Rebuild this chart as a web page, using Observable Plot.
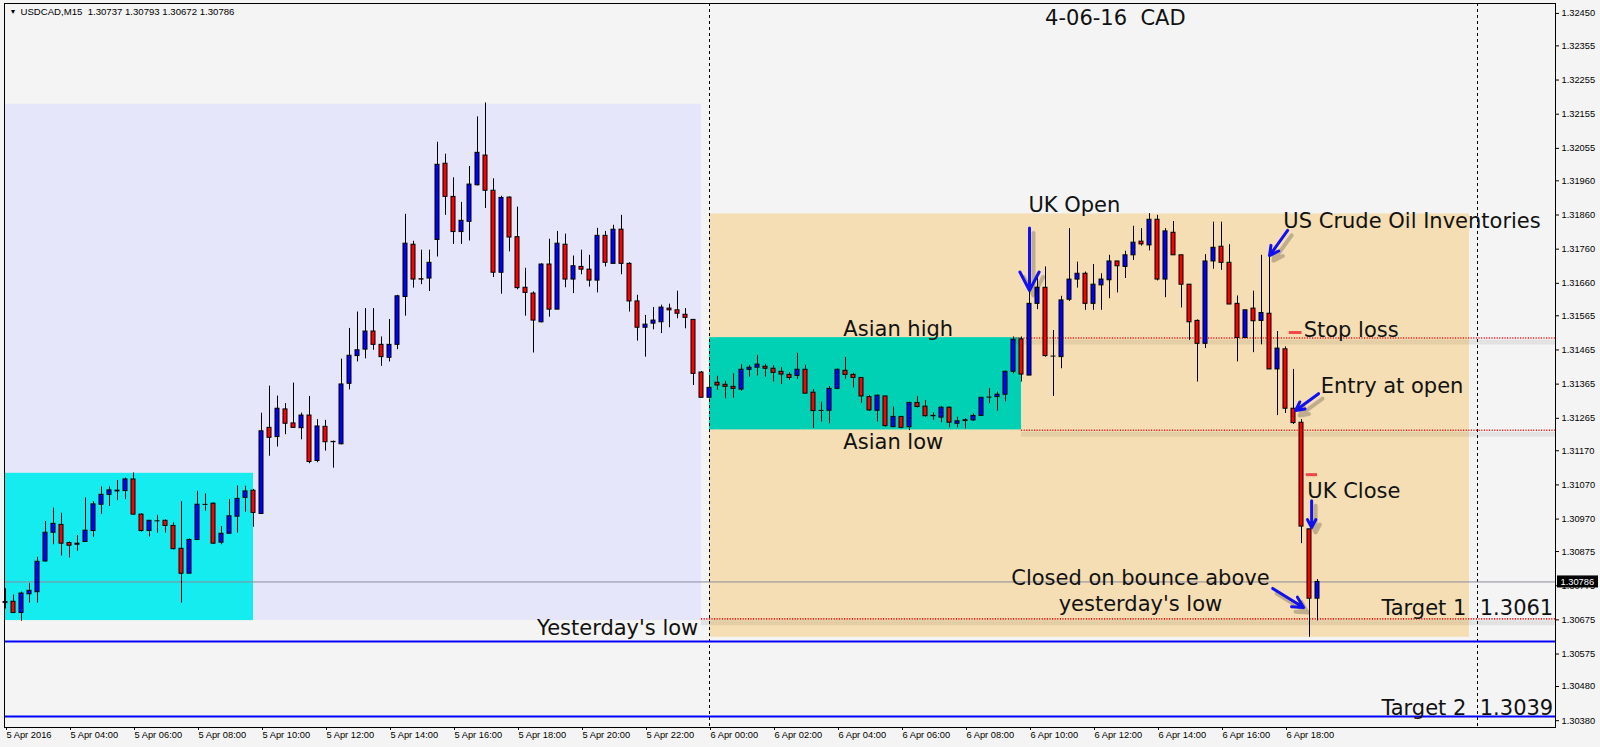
<!DOCTYPE html>
<html><head><meta charset="utf-8">
<script src="https://cdn.jsdelivr.net/npm/d3@7"></script>
<script src="https://cdn.jsdelivr.net/npm/@observablehq/plot@0.6"></script>
<style>
html,body{margin:0;padding:0;background:#F4F4F4;}
#chart svg{display:block;}
</style></head><body><div id="chart"></div>
<script>
// ---------- data ----------
const symbol = "USDCAD";
const timeframe = "M15";
const firstBar = "2016-04-05T02:00:00Z";
const barMinutes = 15;

const opens = [
1.30725,1.30728,1.30695,1.30750,1.30756,1.30846,1.30930,1.30953,1.30900,1.30895,
1.30903,1.30935,1.31012,1.31041,1.31051,1.31052,1.31086,1.30983,1.30935,1.30965,
1.30965,1.30950,1.30883,1.30810,1.30909,1.31013,1.31015,1.30901,1.30927,1.30977,
1.31032,1.31053,1.30985,1.31237,1.31210,1.31291,1.31250,1.31236,1.31273,1.31140,
1.31240,1.31195,1.31189,1.31366,1.31447,1.31466,1.31519,1.31480,1.31442,1.31480,
1.31620,1.31773,1.31672,1.31674,1.31787,1.32010,1.31913,1.31810,1.31840,1.31947,
1.32034,1.31931,1.31691,1.31911,1.31795,1.31647,1.31630,1.31546,1.31715,1.31583,
1.31773,1.31671,1.31708,1.31700,1.31668,1.31799,1.31717,1.31817,1.31717,1.31607,
1.31530,1.31542,1.31546,1.31586,1.31581,1.31568,1.31553,1.31399,1.31325,1.31369,
1.31363,1.31357,1.31349,1.31407,1.31413,1.31416,1.31410,1.31401,1.31392,1.31389,
1.31407,1.31340,1.31288,1.31287,1.31351,1.31404,1.31392,1.31383,1.31327,1.31287,
1.31329,1.31239,1.31269,1.31239,1.31310,1.31299,1.31272,1.31267,1.31296,1.31249,
1.31257,1.31259,1.31272,1.31327,1.31327,1.31334,1.31401,1.31496,1.31390,1.31600,
1.31647,1.31447,1.31444,1.31612,1.31671,1.31688,1.31600,1.31654,1.31669,1.31724,
1.31708,1.31742,1.31782,1.31771,1.31846,1.31671,1.31808,1.31742,1.31656,1.31550,
1.31483,1.31724,1.31767,1.31720,1.31600,1.31500,1.31586,1.31550,1.31571,1.31408,
1.31467,1.31293,1.31252,1.30940,1.30737];
const highs = [
1.30766,1.30748,1.30756,1.30782,1.30858,1.30963,1.31002,1.30987,1.30903,1.30922,
1.31032,1.31021,1.31064,1.31064,1.31083,1.31090,1.31105,1.30986,1.30966,1.30981,
1.30968,1.30959,1.31021,1.30912,1.31051,1.31044,1.31017,1.30948,1.31027,1.31067,
1.31066,1.31057,1.31280,1.31359,1.31330,1.31308,1.31368,1.31280,1.31329,1.31261,
1.31259,1.31198,1.31438,1.31528,1.31576,1.31586,1.31586,1.31503,1.31554,1.31625,
1.31862,1.31783,1.31757,1.31757,1.32073,1.32038,1.31969,1.31897,1.32002,1.32147,
1.32188,1.31966,1.31915,1.31913,1.31883,1.31704,1.31635,1.31717,1.31789,1.31812,
1.31804,1.31740,1.31757,1.31742,1.31821,1.31812,1.31830,1.31859,1.31720,1.31625,
1.31566,1.31589,1.31596,1.31599,1.31637,1.31586,1.31553,1.31402,1.31381,1.31388,
1.31373,1.31395,1.31422,1.31420,1.31449,1.31423,1.31419,1.31413,1.31398,1.31455,
1.31420,1.31349,1.31312,1.31358,1.31409,1.31443,1.31397,1.31383,1.31332,1.31333,
1.31329,1.31298,1.31269,1.31312,1.31329,1.31317,1.31281,1.31299,1.31298,1.31268,
1.31264,1.31278,1.31325,1.31352,1.31342,1.31403,1.31503,1.31503,1.31635,1.31688,
1.31708,1.31522,1.31622,1.31820,1.31722,1.31693,1.31715,1.31688,1.31742,1.31724,
1.31754,1.31827,1.31820,1.31864,1.31859,1.31820,1.31841,1.31742,1.31656,1.31553,
1.31744,1.31839,1.31839,1.31773,1.31623,1.31581,1.31637,1.31742,1.31742,1.31519,
1.31474,1.31408,1.31261,1.30940,1.30793];
const lows = [
1.30707,1.30695,1.30671,1.30724,1.30724,1.30844,1.30895,1.30862,1.30856,1.30876,
1.30903,1.30917,1.30984,1.31007,1.31024,1.31027,1.30981,1.30932,1.30917,1.30929,
1.30929,1.30880,1.30724,1.30810,1.30909,1.30993,1.30896,1.30895,1.30927,1.30929,
1.30990,1.30946,1.30985,1.31154,1.31181,1.31217,1.31237,1.31202,1.31132,1.31135,
1.31169,1.31119,1.31187,1.31348,1.31430,1.31439,1.31464,1.31417,1.31430,1.31466,
1.31564,1.31646,1.31656,1.31636,1.31737,1.31859,1.31774,1.31774,1.31784,1.31945,
1.31879,1.31677,1.31628,1.31752,1.31641,1.31564,1.31456,1.31544,1.31561,1.31583,
1.31647,1.31630,1.31685,1.31649,1.31632,1.31708,1.31717,1.31685,1.31576,1.31491,
1.31444,1.31524,1.31513,1.31530,1.31556,1.31527,1.31361,1.31325,1.31322,1.31347,
1.31322,1.31324,1.31344,1.31385,1.31389,1.31385,1.31371,1.31364,1.31376,1.31379,
1.31337,1.31235,1.31254,1.31249,1.31349,1.31379,1.31354,1.31309,1.31285,1.31254,
1.31239,1.31239,1.31234,1.31229,1.31295,1.31268,1.31259,1.31252,1.31237,1.31237,
1.31234,1.31256,1.31270,1.31308,1.31286,1.31313,1.31395,1.31371,1.31390,1.31583,
1.31444,1.31329,1.31410,1.31607,1.31646,1.31581,1.31581,1.31581,1.31615,1.31632,
1.31674,1.31727,1.31769,1.31755,1.31667,1.31618,1.31742,1.31588,1.31493,1.31371,
1.31469,1.31701,1.31698,1.31598,1.31430,1.31500,1.31457,1.31480,1.31408,1.31273,
1.31279,1.31247,1.30898,1.30624,1.30672];
const closes = [
1.30727,1.30695,1.30752,1.30760,1.30845,1.30930,1.30956,1.30898,1.30892,1.30898,
1.30936,1.31013,1.31041,1.31054,1.31053,1.31086,1.30983,1.30935,1.30965,1.30965,
1.30950,1.30882,1.30810,1.30909,1.31012,1.31013,1.30898,1.30927,1.30978,1.31029,
1.31051,1.30988,1.31227,1.31208,1.31293,1.31249,1.31237,1.31273,1.31137,1.31241,
1.31195,1.31196,1.31364,1.31448,1.31464,1.31519,1.31480,1.31444,1.31480,1.31622,
1.31776,1.31671,1.31671,1.31720,1.32007,1.31913,1.31810,1.31843,1.31949,1.32042,
1.31931,1.31691,1.31910,1.31794,1.31646,1.31632,1.31551,1.31715,1.31583,1.31776,
1.31671,1.31710,1.31700,1.31668,1.31799,1.31720,1.31817,1.31717,1.31607,1.31530,
1.31539,1.31551,1.31589,1.31581,1.31571,1.31559,1.31395,1.31325,1.31354,1.31361,
1.31357,1.31351,1.31407,1.31413,1.31422,1.31410,1.31398,1.31393,1.31383,1.31407,
1.31337,1.31286,1.31288,1.31351,1.31407,1.31392,1.31383,1.31329,1.31288,1.31331,
1.31242,1.31269,1.31237,1.31310,1.31298,1.31271,1.31271,1.31296,1.31252,1.31256,
1.31259,1.31272,1.31325,1.31327,1.31334,1.31401,1.31495,1.31393,1.31600,1.31647,
1.31447,1.31447,1.31610,1.31671,1.31688,1.31600,1.31656,1.31671,1.31724,1.31710,
1.31742,1.31779,1.31774,1.31846,1.31671,1.31812,1.31742,1.31656,1.31546,1.31483,
1.31724,1.31764,1.31720,1.31598,1.31500,1.31581,1.31549,1.31573,1.31408,1.31469,
1.31293,1.31251,1.30948,1.30737,1.30786];

const xTickLabels = ["5 Apr 2016","5 Apr 04:00","5 Apr 06:00","5 Apr 08:00","5 Apr 10:00","5 Apr 12:00",
  "5 Apr 14:00","5 Apr 16:00","5 Apr 18:00","5 Apr 20:00","5 Apr 22:00","6 Apr 00:00","6 Apr 02:00",
  "6 Apr 04:00","6 Apr 06:00","6 Apr 08:00","6 Apr 10:00","6 Apr 12:00","6 Apr 14:00","6 Apr 16:00","6 Apr 18:00"];
const xTickHours = 2;
const yTickLabels = ["1.32450","1.32355","1.32255","1.32155","1.32055","1.31960","1.31860","1.31760",
  "1.31660","1.31565","1.31465","1.31365","1.31265","1.31170","1.31070","1.30970","1.30875","1.30775",
  "1.30675","1.30575","1.30480","1.30380"];

const xDomain = ["2016-04-05T01:58:07.5Z", "2016-04-07T02:26:15Z"];
const yDomain = [1.30360, 1.32479];

const currentPrice = 1.30786;
const daySeparators = ["2016-04-06T00:00:00Z", "2016-04-07T00:00:00Z"];

// session boxes
const zoneNames = ["prevDay", "prevAsia", "day", "asia"];
const zoneFrom  = ["2016-04-05T00:00:00Z","2016-04-05T00:00:00Z","2016-04-06T00:00:00Z","2016-04-06T00:00:00Z"];
const zoneTo    = ["2016-04-05T23:45:00Z","2016-04-05T09:45:00Z","2016-04-06T23:45:00Z","2016-04-06T09:45:00Z"];
const zoneLow   = [1.30673, 1.30673, 1.30624, 1.31231];
const zoneHigh  = [1.32184, 1.31104, 1.31863, 1.31501];

// dotted levels (run to right edge)
const levelPrice = [1.31500, 1.31230, 1.30678];
const levelFrom  = ["2016-04-06T09:30:00Z", "2016-04-06T09:45:00Z", "2016-04-05T23:45:00Z"];
// target lines
const targetLines = [1.30612, 1.30392];

// annotations
const noteText = ["4-06-16\u00a0\u00a0CAD", "UK Open", "US Crude Oil Inventories", "Asian high", "Asian low",
  "Stop loss", "Entry at open", "UK Close", "Closed on bounce above", "yesterday's low", "Yesterday's low",
  "Target 1\u00a0\u00a01.3061", "Target 2\u00a0\u00a01.3039"];
const noteTime = ["2016-04-06T12:41Z","2016-04-06T09:58Z","2016-04-06T17:56Z","2016-04-06T04:11Z","2016-04-06T04:11Z",
  "2016-04-06T18:34Z","2016-04-06T19:06Z","2016-04-06T18:41Z","2016-04-06T13:28Z","2016-04-06T13:28Z","2016-04-05T23:39Z",
  "2016-04-07T02:22Z","2016-04-07T02:22Z"];
const notePrice = [1.32415, 1.31870, 1.31823, 1.31507, 1.31174, 1.31503, 1.31339, 1.31033, 1.30778, 1.30702, 1.30630,
  1.30690, 1.30398];
const noteAlign = ["middle","start","start","start","start","start","start","start","middle","middle","end","end","end"];

const arrowFromTime  = ["2016-04-06T10:00Z","2016-04-06T18:04Z","2016-04-06T19:02Z","2016-04-06T18:49Z","2016-04-06T17:36Z"];
const arrowFromPrice = [1.31822, 1.31815, 1.31337, 1.31024, 1.30767];
const arrowToTime    = ["2016-04-06T10:00Z","2016-04-06T17:30Z","2016-04-06T18:19Z","2016-04-06T18:49Z","2016-04-06T18:34Z"];
const arrowToPrice   = [1.31639, 1.31741, 1.31288, 1.30945, 1.30711];

const dashFrom  = ["2016-04-06T18:07Z", "2016-04-06T18:39Z"];
const dashTo    = ["2016-04-06T18:31Z", "2016-04-06T19:00Z"];
const dashPrice = [1.31516, 1.31100];

// ---------- build ----------
const T = s => new Date(s);
const t0 = T(firstBar);
const barMs = barMinutes * 60000;
const half = barMs / 2;
const bars = opens.map((o, i) => ({date: new Date(+t0 + i * barMs), open: o, high: highs[i], low: lows[i], close: closes[i]}));
const bulls = bars.filter(d => d.close > d.open);
const bears = bars.filter(d => d.close < d.open);
const dojis = bars.filter(d => d.close === d.open);
const xEnd = T(xDomain[1]);
const xStart = T(xDomain[0]);

const tickDates = xTickLabels.map((_, k) => new Date(+t0 + k * xTickHours * 3600000));
const tickLabelMap = new Map(tickDates.map((d, k) => [+d, xTickLabels[k]]));
const yTicks = yTickLabels.map(Number);
const yLabelMap = new Map(yTickLabels.map(s => [+s, s]));

const zoneColor = {prevDay: "#E6E6FA", prevAsia: "#14ECF0", day: "#F5DEB3", asia: "#00D1B4"};
const zones = zoneNames.map((n, i) => ({name: n, x1: T(zoneFrom[i]), x2: T(zoneTo[i]), y1: zoneLow[i], y2: zoneHigh[i]}));
const levels = levelPrice.map((p, i) => ({y: p, x1: T(levelFrom[i]), x2: xEnd}));
const notes = noteText.map((t, i) => ({text: t, x: T(noteTime[i]), y: notePrice[i], a: noteAlign[i]}));
const arrows = arrowFromTime.map((t, i) => ({x1: T(t), y1: arrowFromPrice[i], x2: T(arrowToTime[i]), y2: arrowToPrice[i]}));
const dashes = dashFrom.map((t, i) => ({x1: T(t), x2: T(dashTo[i]), y: dashPrice[i]}));
const last = bars[bars.length - 1];
const titleText = `${symbol},${timeframe}\u00a0\u00a0${last.open.toFixed(5)} ${last.high.toFixed(5)} ${last.low.toFixed(5)} ${last.close.toFixed(5)}`;

const bigFont = {fontFamily: "DejaVu Sans", fontSize: 21, fill: "#111"};

const marks = [
  // session boxes
  ...zoneNames.map(n => Plot.rect(zones.filter(z => z.name === n), {x1: "x1", x2: "x2", y1: "y1", y2: "y2", fill: zoneColor[n], clip: true})),
  // day separators
  Plot.ruleX(daySeparators.map(T), {stroke: "#000", strokeWidth: 1, strokeDasharray: "3,3"}),
  // current price line
  Plot.ruleY([currentPrice], {stroke: "#8A8C9C", strokeWidth: 1}),
  // target lines
  Plot.ruleY(targetLines, {stroke: "#0000FF", strokeWidth: 2}),
  // level shadows and dotted levels
  Plot.ruleY(levels, {y: "y", x1: "x1", x2: "x2", stroke: "#000", strokeOpacity: 0.07, strokeWidth: 5, dy: 4}),
  Plot.ruleY(levels, {y: "y", x1: "x1", x2: "x2", stroke: "#FF1A1A", strokeWidth: 1.6, strokeDasharray: "1.2,1.4"}),
  // candles
  Plot.ruleX(bars, {x: "date", y1: "low", y2: "high", stroke: "#000", strokeWidth: 1}),
  Plot.rect(bulls, {x1: d => new Date(+d.date - half), x2: d => new Date(+d.date + half), y1: "open", y2: "close",
    insetLeft: 2, insetRight: 2, fill: "#0000FF", stroke: "#000", strokeWidth: 1}),
  Plot.rect(bears, {x1: d => new Date(+d.date - half), x2: d => new Date(+d.date + half), y1: "open", y2: "close",
    insetLeft: 2, insetRight: 2, fill: "#FF0000", stroke: "#000", strokeWidth: 1}),
  Plot.ruleY(dojis, {y: "close", x1: d => new Date(+d.date - half), x2: d => new Date(+d.date + half),
    insetLeft: 1.5, insetRight: 1.5, stroke: "#000", strokeWidth: 1}),
  // red dashes
  Plot.ruleY(dashes, {y: "y", x1: "x1", x2: "x2", stroke: "#F04848", strokeWidth: 3}),
  // annotations
  ...["start", "middle", "end"].map(a => Plot.text(notes.filter(n => n.a === a),
    {x: "x", y: "y", text: "text", textAnchor: a, lineAnchor: "bottom", ...bigFont})),
  // arrow shadows + arrows
  Plot.arrow(arrows, {x1: "x1", y1: "y1", x2: "x2", y2: "y2", stroke: "#000", strokeOpacity: 0.22,
    strokeWidth: 4, headLength: 12, headAngle: 55, dx: 4, dy: 5}),
  Plot.arrow(arrows, {x1: "x1", y1: "y1", x2: "x2", y2: "y2", stroke: "#1010F0",
    strokeWidth: 3, headLength: 12, headAngle: 55}),
  // frame
  Plot.frame({stroke: "#000", strokeWidth: 1}),
  // axes
  Plot.axisX({ticks: tickDates, tickFormat: d => tickLabelMap.get(+d), textAnchor: "start", dx: 1,
    tickSize: 3, tickPadding: 1, label: null, fontSize: 9.3}),
  Plot.axisY({anchor: "right", ticks: yTicks, tickFormat: d => yLabelMap.get(d) ?? d.toFixed(5),
    tickSize: 3, tickPadding: 3, label: null, fontSize: 9.3}),
  // current price box
  Plot.rect([currentPrice], {x1: xEnd, x2: xEnd, y1: d => d, y2: d => d, insetLeft: 2, insetRight: -43,
    insetTop: -6, insetBottom: -6, fill: "#000"}),
  Plot.text([currentPrice], {x: xEnd, y: d => d, text: d => d.toFixed(5), textAnchor: "start", dx: 5,
    fill: "#fff", fontSize: 9.3}),
  // title
  Plot.text(["\u25BC"], {frameAnchor: "top-left", dx: 5, dy: 6, fontSize: 7, fill: "#000"}),
  Plot.text([titleText], {frameAnchor: "top-left", dx: 16, dy: 5, fontSize: 9.6, fill: "#000", textAnchor: "start", lineAnchor: "top"})
];

const chart = Plot.plot({
  width: 1600,
  height: 747,
  marginLeft: 4,
  marginRight: 45,
  marginTop: 3,
  marginBottom: 20,
  style: {background: "#F4F4F4", fontFamily: "Liberation Sans, Arial, sans-serif", fontSize: "9.3px", color: "#000", overflow: "visible"},
  x: {type: "utc", domain: [xStart, xEnd]},
  y: {domain: yDomain},
  marks
});
document.getElementById("chart").appendChild(chart);
</script>
</body></html>
